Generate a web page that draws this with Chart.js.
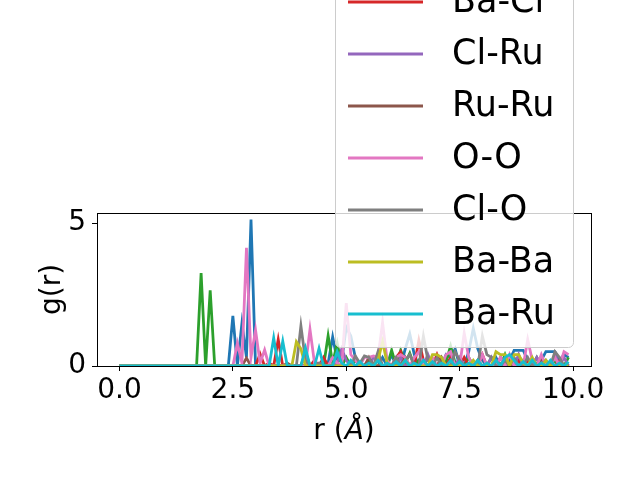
<!DOCTYPE html>
<html>
<head>
<meta charset="utf-8">
<script src="https://cdn.jsdelivr.net/npm/chart.js@4/dist/chart.umd.min.js"></script>
<style>
  html, body { margin: 0; padding: 0; background: #fff; }
  canvas { display: block; }
</style>
</head>
<body>
<canvas id="rdfChart" width="640" height="480"></canvas>
<script>
// DATA
const rValues = [
  0.0, 0.1, 0.2, 0.3, 0.4, 0.5, 0.6, 0.7, 0.8, 0.9,
  1.0, 1.1, 1.2, 1.3, 1.4, 1.5, 1.6, 1.7, 1.8, 1.9,
  2.0, 2.1, 2.2, 2.3, 2.4, 2.5, 2.6, 2.7, 2.8, 2.9,
  3.0, 3.1, 3.2, 3.3, 3.4, 3.5, 3.6, 3.7, 3.8, 3.9,
  4.0, 4.1, 4.2, 4.3, 4.4, 4.5, 4.6, 4.7, 4.8, 4.9,
  5.0, 5.1, 5.2, 5.3, 5.4, 5.5, 5.6, 5.7, 5.8, 5.9,
  6.0, 6.1, 6.2, 6.3, 6.4, 6.5, 6.6, 6.7, 6.8, 6.9,
  7.0, 7.1, 7.2, 7.3, 7.4, 7.5, 7.6, 7.7, 7.8, 7.9,
  8.0, 8.1, 8.2, 8.3, 8.4, 8.5, 8.6, 8.7, 8.8, 8.9,
  9.0, 9.1, 9.2, 9.3, 9.4, 9.5, 9.6, 9.7, 9.8, 9.9
];

const pairLabels = ["Ba-O", "Cl-Cl", "Ru-O", "Ba-Cl", "Cl-Ru", "Ru-Ru", "O-O", "Cl-O", "Ba-Ba", "Ba-Ru"];

const gBaO = [
  0, 0, 0, 0, 0, 0, 0, 0, 0, 0,
  0, 0, 0, 0, 0, 0, 0, 0, 0, 0,
  0, 0, 0, 0, 0, 1.75, 0, 1.5, 0.3, 5.13,
  0, 0, 0, 0, 0, 0, 0, 0, 0, 0,
  0, 0, 0, 0, 0, 0, 0.1, 1.02, 0.2, 0.2,
  1.36, 1.05, 0.3, 0, 0, 0, 0, 0, 0.3, 0,
  0.4, 0, 0, 0.6, 1.12, 0.4, 0, 0.2, 0, 0,
  0, 0, 0.4, 0.3, 0.6, 0, 0, 0.5, 1.32, 0.6,
  0.2, 0, 0, 0.3, 0, 0, 0.2, 0.55, 0.55, 0.55,
  0.2, 0, 0.1, 0.2, 0.5, 0.5, 0.5, 0.2, 0.4, 0.3
];
const gClCl = [
  0, 0, 0, 0, 0, 0, 0, 0, 0, 0,
  0, 0, 0, 0, 0, 0, 0, 0, 0, 0,
  0, 0, 0, 0, 0, 0, 0, 0, 0, 0,
  0, 0, 0, 0, 0, 0, 0, 0, 0, 0,
  0, 0, 0, 0, 0, 0, 0, 0, 0, 0,
  0, 0, 0, 0, 0, 0, 0, 0, 0, 0,
  0, 0, 0, 0, 0, 0, 0, 0, 0, 0,
  0, 0, 0, 0, 0, 0, 0, 0, 0, 0,
  0, 0, 0, 0, 0, 0, 0, 0, 0, 0,
  0, 0, 0, 0, 0, 0, 0, 0, 0, 0
];
const gRuO = [
  0, 0, 0, 0, 0, 0, 0, 0, 0, 0,
  0, 0, 0, 0, 0, 0, 0, 0, 3.25, 0,
  2.65, 0, 0, 0, 0, 0, 0, 0, 0, 0,
  0, 0, 0, 0, 0, 0, 0, 0, 0, 0,
  0, 0.5, 0, 0, 0, 0, 1.06, 0.1, 0.8, 0,
  0.3, 0, 0.2, 0, 0, 0.2, 0, 0.35, 0, 0,
  0.55, 0, 0.55, 0.1, 0.45, 0, 0.2, 0, 0.3, 0,
  0, 0.2, 0.15, 0.7, 0.1, 0, 0, 0.3, 0, 0.2,
  0, 0, 0.3, 0, 0, 0.4, 0, 0, 0, 0.2,
  0, 0, 0.3, 0, 0, 0, 0.2, 0, 0, 0.3
];
const gBaCl = [
  0, 0, 0, 0, 0, 0, 0, 0, 0, 0,
  0, 0, 0, 0, 0, 0, 0, 0, 0, 0,
  0, 0, 0, 0, 0, 0, 0, 0, 0, 0,
  0, 0.42, 0, 0.1, 0, 0.93, 0, 0, 0, 0,
  0, 0, 0, 0.2, 0, 0.3, 0, 0, 0, 0,
  0, 0, 0, 0.1, 0, 0, 0, 0.3, 0, 0,
  0, 0.3, 0.5, 0, 0, 0, 0.9, 0.2, 0, 0,
  0.4, 0, 0, 0.3, 0, 0, 0.3, 0, 0, 0,
  0.4, 0, 0, 0, 0.3, 0, 0, 0, 0.2, 0,
  0.2, 0, 0, 0.3, 0, 0, 0, 0.2, 0, 0
];
const gClRu = [
  0, 0, 0, 0, 0, 0, 0, 0, 0, 0,
  0, 0, 0, 0, 0, 0, 0, 0, 0, 0,
  0, 0, 0, 0, 0, 0, 0, 0, 0, 0,
  0, 0, 0, 0, 0, 0, 0, 0, 0, 0,
  0, 0, 0, 0, 0.1, 0, 0, 0, 0.1, 0.6,
  0.2, 0, 0, 0, 0, 0, 0.3, 0.3, 0, 0,
  0, 0, 0.3, 0, 0, 0, 0, 0, 0.4, 0,
  0, 0, 0, 0, 0, 0.3, 0, 0, 0, 0,
  0, 0, 0.3, 0, 0, 0, 0, 0, 0.4, 0,
  0, 0, 0.3, 0, 0, 0, 0.4, 0, 0.3, 0
];
const gRuRu = [
  0, 0, 0, 0, 0, 0, 0, 0, 0, 0,
  0, 0, 0, 0, 0, 0, 0, 0, 0, 0,
  0, 0, 0, 0, 0, 0, 0, 0, 0.28, 0,
  0, 0, 0, 0, 0, 0, 0, 0.1, 0, 0,
  0, 0, 0, 0, 0, 0, 0, 0, 0, 0,
  0, 0, 0, 0, 0, 0.3, 0, 0, 0, 0,
  0, 0, 0, 0.3, 0, 0, 0, 0, 0, 0,
  0, 0.3, 0, 0, 0, 0, 0, 0, 0, 0.2,
  0, 0, 0, 0, 0, 0.3, 0, 0, 0, 0,
  0, 0, 0, 0.3, 0, 0, 0, 0, 0, 0
];
const gOO = [
  0, 0, 0, 0, 0, 0, 0, 0, 0, 0,
  0, 0, 0, 0, 0, 0, 0, 0, 0, 0,
  0, 0, 0, 0, 0, 0, 0.8, 0.1, 4.14, 0.3,
  1.26, 0.1, 0.56, 0, 0, 0, 0, 0, 0, 0,
  0, 0, 1.28, 0.1, 0, 0, 0, 0.3, 0.1, 0,
  2.2, 0.4, 0.2, 0, 0.3, 0.3, 0.35, 0.3, 1.52, 0.2,
  0, 0.3, 0.4, 0.3, 0, 0.3, 0.5, 0, 0, 0.3,
  0, 0, 0.4, 0.5, 0, 0, 1.15, 0.3, 0, 0,
  0.4, 0, 0, 0, 0.3, 0, 0.4, 0, 0, 0,
  0.93, 0.2, 0, 0.4, 0, 0, 0.3, 0, 0.5, 0.4
];
const gClO = [
  0, 0, 0, 0, 0, 0, 0, 0, 0, 0,
  0, 0, 0, 0, 0, 0, 0, 0, 0, 0,
  0, 0, 0, 0, 0, 0, 0, 0, 0, 0,
  0, 0, 0, 0, 0, 0, 0, 0, 0, 0,
  1.4, 0.2, 0, 0, 0.1, 0, 0, 0, 0, 0,
  0, 0, 0.35, 0.1, 0.35, 0.3, 0, 0.5, 0, 0,
  0, 0.3, 0, 0.2, 0.4, 0, 0, 1.05, 0.2, 0,
  0.3, 0, 0, 0, 0.5, 0.2, 0, 0, 0, 0,
  1.05, 0.4, 0.3, 0, 0, 0.2, 0, 0.3, 0, 0,
  0.3, 0, 0, 0, 0.2, 0, 0.5, 0.3, 0, 0
];
const gBaBa = [
  0, 0, 0, 0, 0, 0, 0, 0, 0, 0,
  0, 0, 0, 0, 0, 0, 0, 0, 0, 0,
  0, 0, 0, 0, 0, 0, 0, 0, 0, 0,
  0, 0, 0, 0, 0, 0, 0, 0, 0, 0.85,
  0.6, 0, 0, 0, 0, 0, 0, 0, 0, 0,
  0, 0, 0, 0, 0, 0, 0, 0.2, 0.85, 0.1,
  0, 0, 0, 0.2, 0, 0, 0, 0, 0, 0.4,
  0.4, 0.3, 0, 0, 0, 0, 0, 0, 0.2, 0,
  0, 0, 0, 0.5, 0.4, 0.4, 0, 0.4, 0.4, 0.1,
  0, 0.3, 0, 0, 0.2, 0, 0, 0, 0, 0
];
const gBaRu = [
  0, 0, 0, 0, 0, 0, 0, 0, 0, 0,
  0, 0, 0, 0, 0, 0, 0, 0, 0, 0,
  0, 0, 0, 0, 0, 0, 0, 0, 0, 0,
  0, 0, 0, 0, 0.98, 0, 0.87, 0, 0, 0,
  0, 0.63, 0, 0, 0.62, 0, 0, 0, 0.5, 0.1,
  0, 0.2, 0, 0.15, 0, 0.1, 0, 0.2, 0, 0.1,
  0, 0.15, 0, 0.2, 0, 0.1, 0, 0.2, 0, 0.15,
  0, 0.1, 0, 0.2, 0, 0.15, 0, 0.1, 0, 0.2,
  0, 0.1, 0, 0.2, 0, 0.3, 0.4, 0.2, 0, 0.15,
  0, 0.2, 0, 0.1, 0, 0.2, 0, 0.1, 0, 0.15
];

const xTicks = [0, 2.5, 5, 7.5, 10];
const yTicks = [0, 5];

const seriesValues = [gBaO, gClCl, gRuO, gBaCl, gClRu, gRuRu, gOO, gClO, gBaBa, gBaRu];
const colors = ["#1f77b4", "#ff7f0e", "#2ca02c", "#d62728", "#9467bd",
                "#8c564b", "#e377c2", "#7f7f7f", "#bcbd22", "#17becf"];

const LINE_W = 2.78;
const FONT = "'DejaVu Sans', sans-serif";

// spines on top of the lines, like matplotlib
const framePlugin = {
    id: "frame",
    afterDatasetsDraw(chart) {
        const a = chart.chartArea;
        const ctx = chart.ctx;
        ctx.save();
        ctx.strokeStyle = "#000";
        ctx.lineWidth = 1;
        ctx.strokeRect(Math.round(a.left) + 0.5, Math.round(a.top) + 0.5,
            Math.round(a.right - a.left), Math.round(a.bottom - a.top));
        ctx.restore();
    }
};

// axis titles (x title has an italic Å)
const titlesPlugin = {
    id: "titles",
    afterDraw(chart) {
        const a = chart.chartArea;
        const ctx = chart.ctx;
        ctx.save();
        ctx.fillStyle = "#000";
        ctx.textBaseline = "alphabetic";

        const parts = [["r (", "normal"], ["Å", "italic"], [")", "normal"]];
        let total = 0;
        parts.forEach(p => {
            ctx.font = p[1] + " 28px " + FONT;
            total += ctx.measureText(p[0]).width;
        });
        let x = (a.left + a.right) / 2 - total / 2;
        parts.forEach(p => {
            ctx.font = p[1] + " 28px " + FONT;
            ctx.textAlign = "left";
            ctx.fillText(p[0], x, 439);
            x += ctx.measureText(p[0]).width;
        });

        ctx.translate(60, (a.top + a.bottom) / 2);
        ctx.rotate(-Math.PI / 2);
        ctx.font = "28px " + FONT;
        ctx.textAlign = "center";
        ctx.fillText("g(r)", 0, 0);
        ctx.restore();
    }
};

// LEGEND: anchored lower right, taller than the axes so it runs off the top
const legendPlugin = {
    id: "bigLegend",
    afterDraw(chart) {
        const a = chart.chartArea;
        const ctx = chart.ctx;
        const sets = chart.data.datasets;
        const rowH = 52;
        const boxW = 238;
        const right = a.right - 18;
        const bottom = a.bottom - 19;
        const left = right - boxW;
        const top = bottom - 66 - (sets.length - 1) * rowH;

        ctx.save();
        ctx.beginPath();
        ctx.roundRect(left + 0.5, top + 0.5, boxW, bottom - top, 5);
        ctx.fillStyle = "rgba(255,255,255,0.8)";
        ctx.fill();
        ctx.strokeStyle = "#cccccc";
        ctx.lineWidth = 1;
        ctx.stroke();

        ctx.font = "35px " + FONT;
        ctx.textAlign = "left";
        ctx.textBaseline = "middle";
        sets.forEach((ds, i) => {
            const y = bottom - 33 - (sets.length - 1 - i) * rowH;
            ctx.beginPath();
            ctx.moveTo(left + 13, y);
            ctx.lineTo(left + 88, y);
            ctx.strokeStyle = ds.borderColor;
            ctx.lineWidth = LINE_W;
            ctx.stroke();
            ctx.fillStyle = "#000";
            ctx.fillText(ds.label, left + 117, y + 1);
        });
        ctx.restore();
    }
};

const datasets = seriesValues.map((vals, i) => ({
    label: pairLabels[i],
    data: vals.map((v, j) => ({ x: rValues[j], y: v })),
    borderColor: colors[i],
    backgroundColor: colors[i],
    borderWidth: LINE_W,
    pointRadius: 0,
    tension: 0,
    fill: false,
    clip: 0,
    order: seriesValues.length - i
}));

Chart.defaults.font.family = FONT;
Chart.defaults.color = "#000";

new Chart(document.getElementById("rdfChart"), {
    type: "line",
    data: { datasets },
    plugins: [framePlugin, titlesPlugin, legendPlugin],
    options: {
        responsive: false,
        animation: false,
        events: [],
        layout: { padding: { top: 213, right: 49, left: 0, bottom: 0 } },
        plugins: {
            legend: { display: false },
            tooltip: { enabled: false }
        },
        scales: {
            x: {
                type: "linear",
                min: -0.495,
                max: 10.395,
                afterBuildTicks: s => { s.ticks = xTicks.map(v => ({ value: v })); },
                afterFit: s => { s.height = 114; },
                ticks: {
                    font: { size: 28 },
                    color: "#000",
                    padding: 3,
                    maxRotation: 0,
                    autoSkip: false,
                    callback: v => v.toFixed(1)
                },
                grid: {
                    drawOnChartArea: false,
                    drawTicks: true,
                    tickLength: 5,
                    color: "#000"
                },
                border: { display: true, color: "#000" }
            },
            y: {
                min: 0,
                max: 5.355,
                afterBuildTicks: s => { s.ticks = yTicks.map(v => ({ value: v })); },
                afterFit: s => { s.width = 97; },
                ticks: {
                    font: { size: 28 },
                    color: "#000",
                    padding: 6,
                    callback: v => String(v)
                },
                grid: {
                    drawOnChartArea: false,
                    drawTicks: true,
                    tickLength: 5,
                    color: "#000"
                },
                border: { display: true, color: "#000" }
            }
        }
    }
});
</script>
</body>
</html>
